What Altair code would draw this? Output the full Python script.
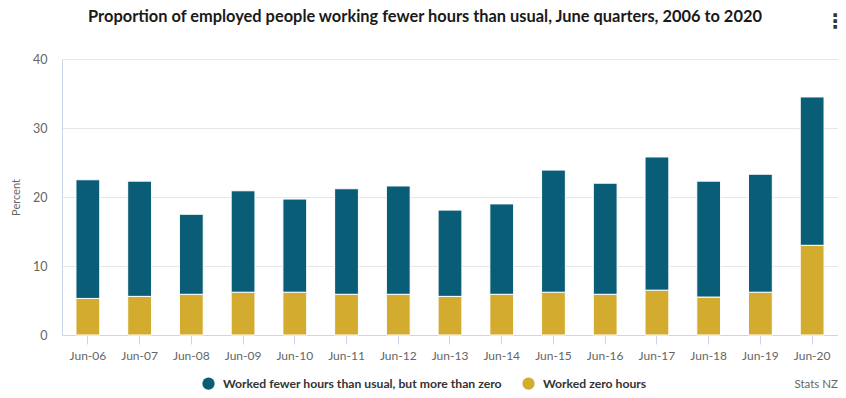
import altair as alt
import pandas as pd

quarters = ["Jun-06", "Jun-07", "Jun-08", "Jun-09", "Jun-10", "Jun-11", "Jun-12", "Jun-13",
            "Jun-14", "Jun-15", "Jun-16", "Jun-17", "Jun-18", "Jun-19", "Jun-20"]
zero_hours = [5.3, 5.6, 5.9, 6.2, 6.2, 5.9, 5.9, 5.6, 5.9, 6.2, 5.9, 6.5, 5.5, 6.2, 13.0]
fewer_hours = [17.2, 16.7, 11.6, 14.7, 13.5, 15.3, 15.7, 12.5, 13.1, 17.7, 16.1, 19.3, 16.8, 17.1, 21.5]

s_fewer = "Worked fewer hours than usual, but more than zero"
s_zero = "Worked zero hours"
title_text = "Proportion of employed people working fewer hours than usual, June quarters, 2006 to 2020"

rows = []
for q, z, f in zip(quarters, zero_hours, fewer_hours):
    rows.append({"quarter": q, "series": s_zero, "value": z, "ord": 0})
    rows.append({"quarter": q, "series": s_fewer, "value": f, "ord": 1})
df = pd.DataFrame(rows)

FONT = "Lato"

bars = alt.Chart(df).mark_bar(stroke="white", strokeWidth=1).encode(
    x=alt.X("quarter:N", sort=quarters, title=None,
            scale=alt.Scale(paddingInner=0.54, paddingOuter=0.27),
            axis=alt.Axis(labelAngle=0, labelColor="#666666", labelFontSize=12, labelFont=FONT,
                          domainColor="#ccd6eb", tickColor="#ccd6eb", tickSize=9, labelPadding=6,
                          grid=False)),
    y=alt.Y("value:Q", title="Percent", stack="zero",
            scale=alt.Scale(domain=[0, 40], nice=False),
            axis=alt.Axis(values=[0, 10, 20, 30, 40], labelColor="#666666", labelFontSize=12.5,
                          labelFont=FONT, titleFont=FONT, titleFontSize=11, titleFontWeight="normal",
                          titleColor="#666666", titlePadding=11, gridColor="#e6e6e6",
                          domainColor="#ccd6eb", ticks=False, labelPadding=15)),
    color=alt.Color("series:N",
                    scale=alt.Scale(domain=[s_fewer, s_zero], range=["#0a5d76", "#d3ac2f"]),
                    legend=alt.Legend(title=None, orient="none", direction="horizontal",
                                      legendX=140, legendY=318, symbolType="circle", symbolSize=150,
                                      symbolStrokeWidth=0, labelFont=FONT, labelFontSize=12.2,
                                      labelFontWeight="bold", labelColor="#333333", labelLimit=600,
                                      columnPadding=20, symbolOffset=0, labelOffset=8)),
    order=alt.Order("ord:Q"),
)

title = alt.Chart(pd.DataFrame({"t": [title_text]})).mark_text(
    align="center", baseline="middle", font=FONT, fontSize=16.4, fontWeight="bold", color="#1a1a1a"
).encode(x=alt.value(363), y=alt.value(-42), text="t:N")

credit = alt.Chart(pd.DataFrame({"t": ["Stats NZ"]})).mark_text(
    align="right", baseline="middle", font=FONT, fontSize=11.5, color="#666666"
).encode(x=alt.value(776), y=alt.value(326), text="t:N")

menu = alt.Chart(pd.DataFrame({"t": ["⋮"]})).mark_text(
    align="center", baseline="middle", font="DejaVu Sans", fontSize=20, fontWeight="bold", color="#333333"
).encode(x=alt.value(773), y=alt.value(-37), text="t:N")

chart = alt.layer(bars, title, credit, menu).properties(
    width=776, height=276,
    autosize=alt.AutoSizeParams(type="none"),
    padding={"left": 54, "top": 51, "right": 0, "bottom": 55},
).configure_view(stroke=None)

chart.save("out.html", embed_options={"renderer": "svg", "actions": False})
